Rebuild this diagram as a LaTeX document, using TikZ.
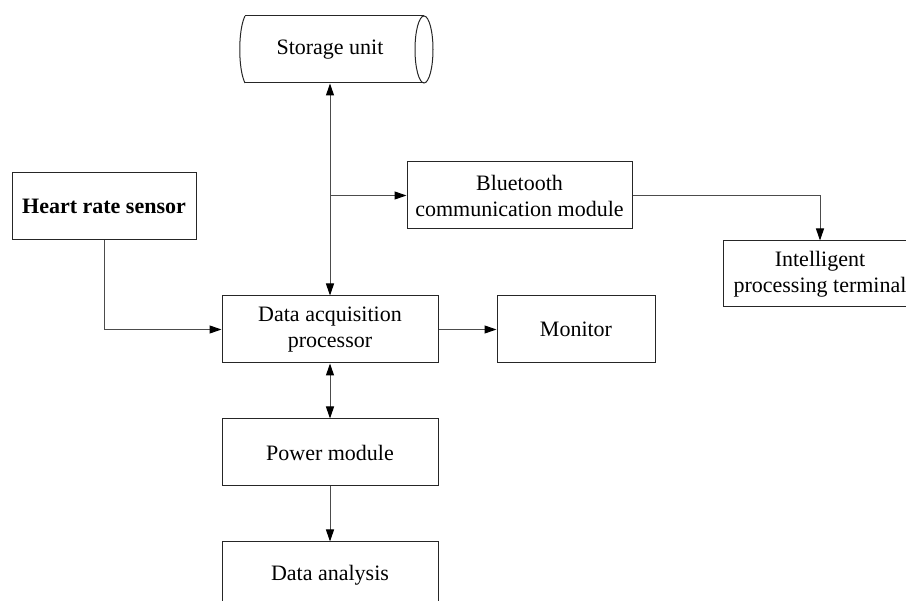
\documentclass[tikz,border=0pt]{standalone}
\usepackage{fontspec}
\setmainfont{Liberation Serif}
\usetikzlibrary{arrows.meta}
\begin{document}
\begin{tikzpicture}[x=1pt,y=-1pt,
  box/.style={draw=black!85,line width=1pt,rectangle,inner sep=0pt,align=center,
    font=\fontsize{22}{26}\selectfont},
  conn/.style={draw=black!70,line width=1pt,-{Triangle[length=12pt,width=8pt,color=black]}},
  dconn/.style={draw=black!70,line width=1pt,{Triangle[length=12pt,width=8pt,color=black]}-{Triangle[length=12pt,width=8pt,color=black]}}]
\useasboundingbox (0,0) rectangle (906,601);
\clip (0,0) rectangle (906,601);
% storage cylinder
\draw[black!85,line width=1pt] (245,16) -- (424,16);
\draw[black!85,line width=1pt] (245,83) -- (424,83);
\draw[black!85,line width=1pt] (424,49.5) ellipse [x radius=9, y radius=33.5];
\draw[black!85,line width=1pt] (245,16) .. controls (238,30) and (238,69) .. (245,83);
\node[box,draw=none,minimum width=170pt,minimum height=67pt] (storage) at (330,49.5) {Storage unit};
% boxes
\node[box,minimum width=184pt,minimum height=67pt,font=\fontsize{22}{26}\selectfont\bfseries] (hrs) at (104,206.5) {Heart rate sensor};
\node[box,minimum width=216pt,minimum height=67pt] (dap) at (330,329.5) {Data acquisition\\processor};
\node[box,minimum width=158pt,minimum height=67pt] (mon) at (576,329.5) {Monitor};
\node[box,minimum width=216pt,minimum height=67pt] (pm) at (330,452.5) {Power module};
\node[box,minimum width=216pt,minimum height=67pt] (da) at (330,575.5) {Data analysis};
\node[box,minimum width=225pt,minimum height=67pt] (bt) at (519.5,195.5) {Bluetooth\\communication module};
\node[box,minimum width=194pt,minimum height=66pt] (ipt) at (820,274) {Intelligent\\processing terminal};
% connectors
\draw[dconn] (storage.south) -- (dap.north);
\draw[conn] (storage.south |- bt.west) -- (bt.west);
\draw[conn] (bt.east) -| (ipt.north);
\draw[conn] (hrs.south) |- (dap.west);
\draw[conn] (dap.east) -- (mon.west);
\draw[dconn] (dap.south) -- (pm.north);
\draw[conn] (pm.south) -- (da.north);
\end{tikzpicture}
\end{document}
